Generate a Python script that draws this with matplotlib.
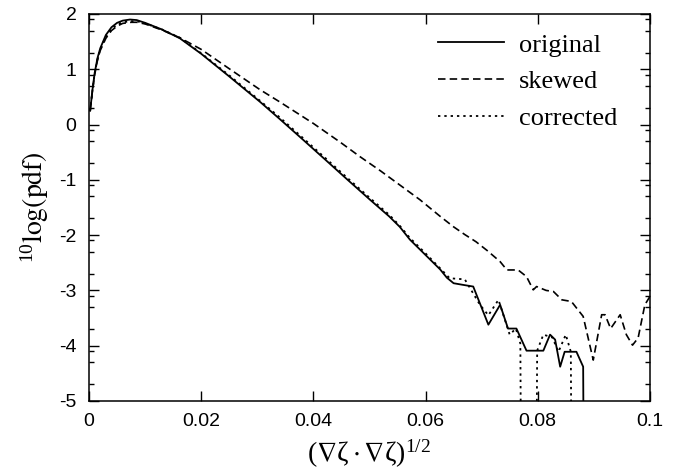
import numpy as np
import matplotlib
matplotlib.use("Agg")
import matplotlib.pyplot as plt
from matplotlib.ticker import FixedLocator, MultipleLocator

# ---------------- DATA ----------------
# log10 of an empty bin, drawn as a drop off the bottom of the axes
EMPTY = -30.0

x_original = [0.0002, 0.0006, 0.001, 0.0015, 0.002, 0.003, 0.004, 0.005, 0.006,
              0.0073, 0.0085, 0.010, 0.013, 0.0162, 0.020, 0.025, 0.0305, 0.034,
              0.038, 0.0424, 0.046, 0.0501, 0.0535, 0.0554, 0.0572, 0.060, 0.0626,
              0.0638, 0.0650, 0.0667, 0.0685, 0.0712, 0.0733, 0.0747, 0.0762,
              0.0780, 0.0810, 0.0822, 0.0831, 0.0840, 0.0848, 0.0869, 0.0881, 0.0895]
y_original = [0.25, 0.62, 0.93, 1.20, 1.38, 1.62, 1.76, 1.84, 1.88,
              1.90, 1.89, 1.84, 1.72, 1.56, 1.28, 0.87, 0.41, 0.10,
              -0.26, -0.66, -0.99, -1.36, -1.66, -1.85, -2.08, -2.36, -2.62,
              -2.77, -2.87, -2.90, -2.93, -3.62, -3.26, -3.69, -3.69,
              -4.09, -4.09, -3.80, -3.89, -4.38, -4.11, -4.11, -4.38, EMPTY]

x_skewed = [0.0002, 0.0006, 0.001, 0.0015, 0.002, 0.003, 0.004, 0.005, 0.006,
            0.0075, 0.0085, 0.010, 0.013, 0.0162, 0.020, 0.025, 0.0305, 0.034,
            0.040, 0.0448, 0.0483, 0.052, 0.0555, 0.059, 0.0626, 0.0650, 0.0670,
            0.0690, 0.0710, 0.0733, 0.0745, 0.0765, 0.0780, 0.0792, 0.0798,
            0.0815, 0.0828, 0.0843, 0.0860, 0.0881, 0.0899, 0.0914, 0.0920,
            0.0930, 0.0947, 0.0958, 0.0969, 0.0979, 0.0991, 0.1000]
y_skewed = [0.25, 0.60, 0.90, 1.16, 1.34, 1.56, 1.70, 1.78, 1.83,
            1.85, 1.85, 1.82, 1.71, 1.57, 1.36, 1.01, 0.63, 0.41,
            0.02, -0.32, -0.58, -0.84, -1.10, -1.36, -1.66, -1.85, -1.99,
            -2.12, -2.28, -2.48, -2.63, -2.63, -2.75, -2.99, -2.93,
            -3.00, -3.02, -3.17, -3.20, -3.47, -4.26, -3.44, -3.44,
            -3.69, -3.44, -3.80, -3.99, -3.86, -3.26, -3.11]

x_corrected = [0.0002, 0.0006, 0.001, 0.0015, 0.002, 0.003, 0.004, 0.005, 0.006,
               0.0075, 0.0085, 0.010, 0.013, 0.0162, 0.020, 0.025, 0.0305, 0.034,
               0.038, 0.0424, 0.046, 0.0501, 0.0535, 0.0554, 0.0572, 0.060, 0.0626,
               0.0643, 0.0670, 0.0697, 0.0712, 0.0730, 0.0750, 0.0761, 0.0769,
               0.0784, 0.0799, 0.0810, 0.0826, 0.0837, 0.0850, 0.0859, 0.0873]
y_corrected = [0.25, 0.61, 0.92, 1.18, 1.36, 1.59, 1.73, 1.81, 1.85,
               1.87, 1.87, 1.83, 1.72, 1.57, 1.29, 0.89, 0.43, 0.13,
               -0.23, -0.63, -0.96, -1.33, -1.63, -1.83, -2.05, -2.33, -2.60,
               -2.78, -2.80, -3.26, -3.45, -3.17, -3.80, -3.69, -3.96,
               EMPTY, -4.09, -3.80, -3.85, -4.11, -3.80, -4.11, EMPTY]

labels = ["original", "skewed", "corrected"]

# ---------------- STYLE ----------------
plt.rcParams["font.family"] = ["Liberation Sans", "DejaVu Sans"]
plt.rcParams["mathtext.fontset"] = "stix"
plt.rcParams["mathtext.default"] = "regular"
plt.rcParams["axes.unicode_minus"] = False

SERIF = ["Liberation Serif", "DejaVu Serif"]

fig = plt.figure(figsize=(6.87, 4.76), dpi=100)
ax = fig.add_axes([0.1296, 0.1576, 0.8164, 0.8130])

ax.plot(x_original, y_original, color="black", lw=1.3, label=labels[0])
ax.plot(x_skewed, y_skewed, color="black", lw=1.2, dashes=(4.5, 2.5), label=labels[1])
ax.plot(x_corrected, y_corrected, color="black", lw=1.3, dashes=(1.3, 2.2), label=labels[2])

ax.set_xlim(0, 0.1)
ax.set_ylim(-5, 2)

ax.xaxis.set_major_locator(MultipleLocator(0.02))
ax.yaxis.set_major_locator(MultipleLocator(1))
decades = np.arange(-5, 2)
minor_y = np.concatenate([decades + np.log10(m) for m in (2, 5, 8)])
ax.yaxis.set_minor_locator(FixedLocator(minor_y))
ax.xaxis.set_major_formatter(plt.FuncFormatter(lambda v, p: "0" if v == 0 else f"{v:g}"))

ax.tick_params(which="both", direction="in", top=True, right=True,
               labelsize=14, width=1.0)
ax.tick_params(which="major", length=7, pad=9)
ax.tick_params(which="minor", length=3.5)
for s in ax.spines.values():
    s.set_linewidth(1.1)

ax.set_xlabel(r"$(\nabla\zeta\cdot\nabla\zeta)^{1/2}$", fontsize=20, labelpad=5,
              family=SERIF)
ax.set_ylabel(r"$^{10}\mathrm{log(pdf)}$", fontsize=20, labelpad=6, family=SERIF)

leg = ax.legend(loc="upper right", bbox_to_anchor=(0.985, 1.012), frameon=False,
                handlelength=2.5, handletextpad=0.6, labelspacing=0.5,
                prop={"family": "Liberation Serif", "size": 19})

fig.savefig("out.png", dpi=100)
